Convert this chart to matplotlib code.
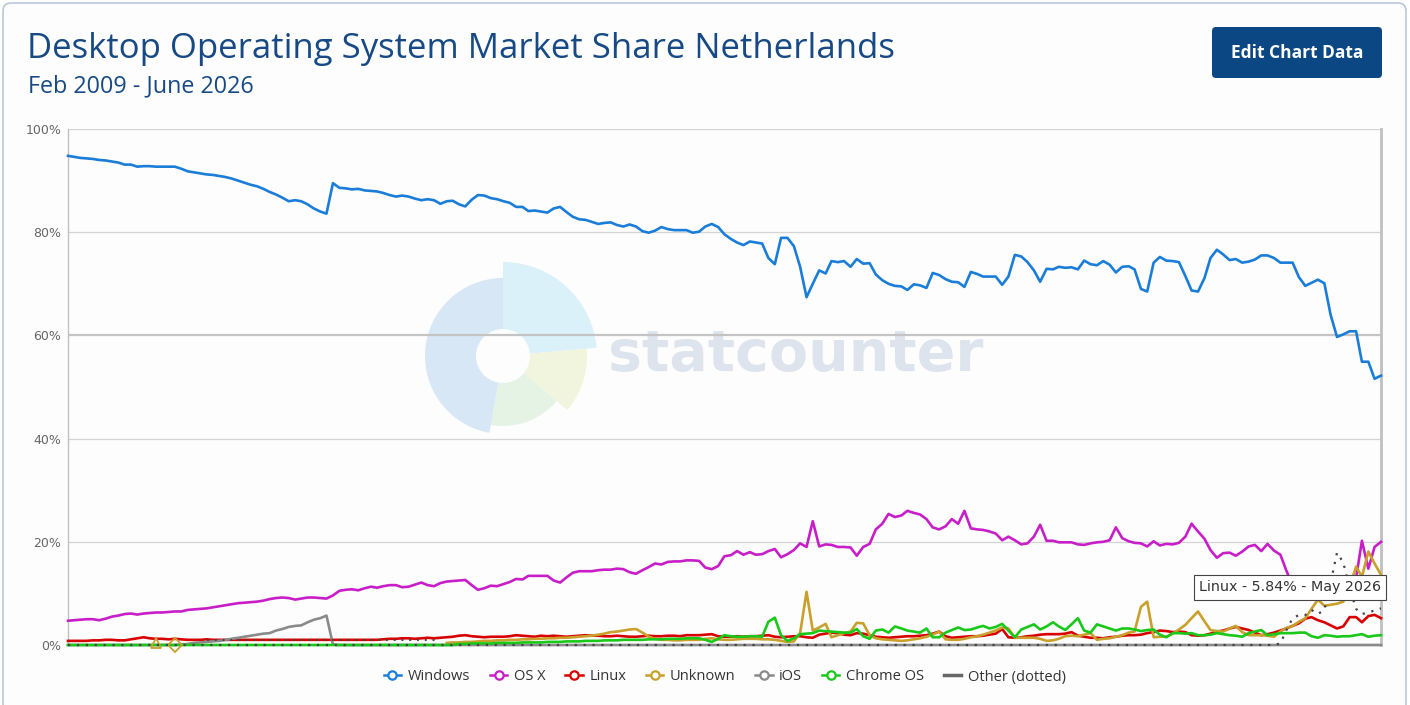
import numpy as np
import pandas as pd
import matplotlib
matplotlib.use('Agg')
import matplotlib.pyplot as plt
from matplotlib.patches import Wedge, Circle, FancyBboxPatch
from matplotlib.lines import Line2D

nan = np.nan

# monthly data, Feb 2009 - June 2026 (209 months)
months = pd.date_range('2009-02-01', periods=209, freq='MS')

windows = [
    94.8, 94.6, 94.4, 94.3, 94.2, 94.0, 93.9, 93.7, 93.5, 93.1,
    93.1, 92.7, 92.8, 92.8, 92.7, 92.7, 92.7, 92.7, 92.3, 91.8,
    91.6, 91.4, 91.2, 91.1, 90.9, 90.7, 90.4, 90.0, 89.6, 89.2,
    88.9, 88.4, 87.8, 87.3, 86.7, 86.0, 86.2, 86.0, 85.4, 84.6,
    84.0, 83.6, 89.5, 88.6, 88.5, 88.3, 88.4, 88.1, 88.0, 87.9,
    87.6, 87.2, 86.9, 87.1, 86.9, 86.5, 86.2, 86.4, 86.2, 85.5,
    86.0, 86.1, 85.4, 85.0, 86.3, 87.2, 87.1, 86.6, 86.4, 86.0,
    85.7, 84.9, 84.9, 84.1, 84.2, 84.0, 83.8, 84.6, 84.9, 83.9,
    83.0, 82.5, 82.4, 82.0, 81.6, 81.8, 81.9, 81.4, 81.1, 81.5,
    81.1, 80.2, 79.9, 80.3, 81.0, 80.6, 80.4, 80.4, 80.4, 79.9,
    80.1, 81.1, 81.6, 81.0, 79.6, 78.7, 78.0, 77.5, 78.2, 78.0,
    77.8, 75.0, 73.8, 78.9, 78.9, 77.3, 73.3, 67.4, 70.0, 72.6,
    72.0, 74.4, 74.2, 74.4, 73.3, 74.8, 73.9, 74.0, 71.8, 70.7,
    70.0, 69.6, 69.5, 68.8, 69.9, 69.7, 69.2, 72.1, 71.7, 70.9,
    70.4, 70.3, 69.4, 72.3, 71.9, 71.4, 71.4, 71.4, 69.8, 71.4,
    75.6, 75.3, 74.2, 72.6, 70.4, 72.9, 72.8, 73.3, 73.1, 73.2,
    72.8, 74.5, 73.8, 73.6, 74.4, 73.7, 72.2, 73.3, 73.4, 72.8,
    69.0, 68.5, 74.1, 75.2, 74.5, 74.4, 74.2, 71.5, 68.7, 68.5,
    71.1, 75.0, 76.6, 75.7, 74.6, 74.8, 74.1, 74.3, 74.7, 75.5,
    75.5, 75.0, 74.1, 74.1, 74.1, 71.3, 69.6, 70.2, 70.8, 70.1,
    64.0, 59.7, 60.2, 60.8, 60.8, 54.9, 54.9, 51.6, 52.2]

osx = [
    4.7, 4.8, 4.9, 5.0, 5.0, 4.8, 5.1, 5.5, 5.7, 6.0,
    6.1, 5.9, 6.1, 6.2, 6.3, 6.3, 6.4, 6.5, 6.5, 6.8,
    6.9, 7.0, 7.1, 7.3, 7.5, 7.7, 7.9, 8.1, 8.2, 8.3,
    8.4, 8.6, 8.9, 9.1, 9.2, 9.1, 8.8, 9.0, 9.2, 9.2,
    9.1, 9.0, 9.6, 10.5, 10.7, 10.8, 10.6, 11.0, 11.3, 11.1,
    11.4, 11.6, 11.6, 11.2, 11.3, 11.7, 12.1, 11.6, 11.4, 12.0,
    12.3, 12.4, 12.5, 12.6, 11.6, 10.7, 11.0, 11.5, 11.4, 11.8,
    12.2, 12.8, 12.7, 13.4, 13.4, 13.4, 13.4, 12.5, 12.1, 13.1,
    14.0, 14.3, 14.3, 14.3, 14.5, 14.6, 14.6, 14.8, 14.7, 14.1,
    13.8, 14.5, 15.1, 15.8, 15.6, 16.1, 16.2, 16.2, 16.4, 16.4,
    16.3, 15.0, 14.7, 15.3, 17.2, 17.4, 18.2, 17.5, 18.0, 17.5,
    17.6, 18.2, 18.6, 17.0, 17.6, 18.4, 19.7, 19.0, 24.0, 19.1,
    19.5, 19.4, 19.0, 19.0, 18.9, 17.3, 19.0, 19.6, 22.4, 23.5,
    25.4, 24.8, 25.1, 26.0, 25.6, 25.3, 24.4, 22.8, 22.4, 23.0,
    24.4, 23.5, 26.0, 22.6, 22.4, 22.3, 22.0, 21.6, 20.3, 21.0,
    20.3, 19.5, 19.7, 21.0, 23.3, 20.2, 20.2, 19.9, 19.9, 19.9,
    19.5, 19.4, 19.7, 19.9, 20.0, 20.3, 22.8, 20.7, 20.1, 19.8,
    19.7, 19.1, 20.1, 19.3, 19.6, 19.5, 19.8, 21.0, 23.5, 22.0,
    20.6, 18.4, 16.9, 17.8, 17.9, 17.3, 18.1, 19.1, 19.4, 18.2,
    19.6, 18.3, 17.5, 14.5, 11.5, 11.0, 10.8, 10.5, 10.6, 10.8,
    11.0, 11.2, 11.5, 11.8, 13.0, 20.2, 14.8, 19.0, 20.0]

linux = [
    0.8, 0.8, 0.8, 0.8, 0.9, 0.9, 1.0, 1.0, 0.9, 0.9,
    1.1, 1.3, 1.5, 1.3, 1.2, 1.2, 1.1, 1.2, 1.1, 1.0,
    1.0, 1.0, 1.1, 1.0, 1.0, 1.0, 1.0, 1.0, 1.0, 1.0,
    1.0, 1.0, 1.0, 1.0, 1.0, 1.0, 1.0, 1.0, 1.0, 1.0,
    1.0, 1.0, 1.0, 1.0, 1.0, 1.0, 1.0, 1.0, 1.0, 1.0,
    1.1, 1.2, 1.2, 1.3, 1.3, 1.2, 1.3, 1.4, 1.3, 1.4,
    1.5, 1.6, 1.8, 1.9, 1.7, 1.6, 1.5, 1.6, 1.6, 1.6,
    1.7, 1.9, 1.8, 1.7, 1.6, 1.8, 1.7, 1.8, 1.7, 1.6,
    1.7, 1.8, 1.9, 1.8, 1.8, 1.7, 1.7, 1.8, 1.7, 1.6,
    1.6, 1.7, 1.8, 1.7, 1.7, 1.8, 1.8, 1.7, 1.9, 1.9,
    1.9, 2.0, 2.1, 1.7, 1.6, 1.6, 1.7, 1.6, 1.7, 1.7,
    1.8, 1.9, 1.6, 1.5, 1.6, 1.7, 1.7, 1.5, 1.4, 2.0,
    2.2, 2.4, 2.3, 2.0, 1.9, 2.3, 2.2, 1.9, 1.6, 1.5,
    1.4, 1.5, 1.6, 1.7, 1.7, 1.8, 1.9, 2.2, 2.6, 1.7,
    1.4, 1.5, 1.6, 1.7, 1.7, 1.8, 2.0, 2.2, 3.1, 1.5,
    1.4, 1.5, 1.7, 1.8, 2.0, 2.1, 2.1, 2.1, 2.2, 2.5,
    1.8, 1.6, 1.4, 1.4, 1.3, 1.5, 1.6, 1.8, 1.9, 1.9,
    2.0, 2.3, 2.5, 2.8, 2.7, 2.5, 2.6, 2.5, 1.9, 1.8,
    1.9, 2.2, 2.6, 2.8, 3.2, 3.5, 3.2, 2.9, 2.4, 1.9,
    2.1, 2.4, 2.8, 3.2, 3.7, 4.2, 5.1, 5.4, 4.8, 4.4,
    3.8, 3.2, 3.6, 5.4, 5.4, 4.4, 5.6, 5.84, 5.2]

unknown = [
    nan, nan, nan, nan, nan, nan, nan, nan, nan, nan,
    nan, nan, nan, nan, 0.3, nan, nan, 0.0, nan, nan,
    nan, nan, nan, nan, nan, nan, nan, nan, nan, nan,
    nan, nan, nan, nan, nan, nan, nan, nan, nan, nan,
    nan, nan, nan, nan, nan, nan, nan, nan, nan, nan,
    nan, nan, nan, nan, nan, nan, nan, nan, nan, nan,
    0.4, 0.5, 0.5, 0.6, 0.6, 0.7, 0.8, 0.8, 0.9, 0.9,
    1.0, 1.0, 1.1, 1.1, 1.2, 1.2, 1.3, 1.3, 1.4, 1.4,
    1.5, 1.6, 1.7, 1.8, 2.0, 2.2, 2.5, 2.6, 2.8, 3.0,
    3.1, 2.4, 1.6, 1.2, 1.0, 1.0, 0.9, 0.9, 1.0, 1.0,
    1.0, 1.2, 1.3, 1.1, 1.0, 1.0, 1.1, 1.2, 1.2, 1.2,
    1.1, 1.1, 1.0, 0.8, 0.6, 0.7, 2.3, 10.3, 2.8, 3.4,
    4.1, 1.5, 1.9, 2.3, 2.6, 4.3, 4.2, 1.9, 1.3, 1.1,
    1.0, 0.9, 0.8, 0.9, 1.1, 1.3, 1.6, 2.0, 2.6, 1.1,
    1.0, 1.0, 1.2, 1.5, 1.7, 2.0, 2.4, 2.8, 3.4, 3.2,
    1.4, 1.4, 1.4, 1.4, 1.2, 0.8, 0.9, 1.2, 1.7, 1.8,
    1.7, 2.0, 2.3, 1.0, 1.2, 1.3, 1.6, 1.9, 2.4, 2.6,
    7.4, 8.4, 1.5, 1.6, 1.6, 2.2, 3.0, 3.9, 5.2, 6.5,
    4.6, 2.9, 2.7, 2.6, 3.2, 3.7, 2.5, 1.9, 1.9, 1.9,
    1.8, 1.6, 2.6, 3.3, 3.7, 4.5, 5.2, 7.0, 8.8, 7.6,
    7.8, 8.0, 8.4, 11.3, 15.2, 13.2, 18.1, 15.8, 13.6]
unknown_markers = ['^', 'D']   # shapes of the two isolated points

ios = [0.0] * 18 + [
    0.1, 0.2, 0.4, 0.5, 0.6, 0.7, 0.8, 1.0, 1.2, 1.4,
    1.6, 1.8, 2.0, 2.2, 2.3, 2.8, 3.1, 3.5, 3.7, 3.8,
    4.4, 4.9, 5.2, 5.7, 0.1] + [0.0] * 166

chromeos = [0.0] * 62 + [
    0.2, 0.2, 0.3, 0.3, 0.3, 0.3, 0.4, 0.4,
    0.4, 0.4, 0.5, 0.5, 0.5, 0.5, 0.6, 0.6, 0.6, 0.7,
    0.7, 0.7, 0.8, 0.8, 0.8, 0.9, 0.9, 0.9, 1.0, 1.0,
    1.0, 1.0, 1.1, 1.1, 1.1, 1.2, 1.2, 1.2, 1.3, 1.3,
    1.3, 1.0, 0.6, 1.2, 1.9, 1.7, 1.6, 1.6, 1.7, 1.7,
    1.6, 4.5, 5.3, 1.9, 0.8, 1.3, 2.1, 2.2, 2.3, 2.8,
    2.7, 2.6, 2.5, 2.4, 2.4, 3.1, 1.7, 1.2, 2.8, 3.0,
    2.4, 3.6, 3.2, 2.8, 2.6, 2.4, 3.2, 1.5, 1.5, 2.4,
    2.9, 3.4, 2.9, 3.0, 3.4, 3.7, 3.2, 3.5, 4.1, 2.8,
    1.5, 3.0, 3.5, 4.0, 3.0, 3.6, 4.4, 3.6, 2.9, 4.0,
    5.2, 2.8, 2.4, 4.0, 3.6, 3.2, 2.8, 3.2, 3.2, 3.0,
    2.7, 2.9, 3.0, 2.0, 1.5, 2.3, 2.3, 2.2, 2.3, 1.9,
    1.9, 2.0, 2.3, 2.1, 1.9, 1.8, 1.6, 2.3, 2.6, 2.9,
    1.9, 2.1, 2.3, 2.3, 2.3, 2.4, 2.4, 1.7, 1.4, 1.9,
    1.8, 1.6, 1.7, 1.7, 1.9, 2.1, 1.6, 1.8, 1.9]

# "Other" dotted series
other = [0.0] * 192 + [
    0.3, 2.8, 5.2, 5.8, 5.8, 6.8, 6.0, 6.8,
    12.0, 17.9, 16.0, 11.0, 7.0, 6.0, 6.3, 6.7, 7.1]
other_b = [nan] * 22 + [1.0] * 38 + [nan] * 149

names = ['Windows', 'OS X', 'Linux', 'Unknown', 'iOS', 'Chrome OS']
colors = ['#1a7dd7', '#c81ec8', '#d90000', '#c9a02b', '#8a8a8a', '#19c819']
series = [windows, osx, linux, unknown, ios, chromeos]

W, H = 1410, 705
fig = plt.figure(figsize=(W / 100, H / 100), dpi=100)
fig.patch.set_facecolor('white')

# background layer in pixel coords (y up)
bg = fig.add_axes([0, 0, 1, 1], zorder=0)
bg.set_xlim(0, W)
bg.set_ylim(0, H)
bg.axis('off')

def py(y):
    return H - y

bg.add_patch(FancyBboxPatch((3, py(712)), 1403, 709, boxstyle='round,pad=0,rounding_size=8',
                            fc='#fdfdfe', ec='#b9c9dc', lw=1.2))

# statcounter watermark
cx, cy = 503, py(356)
bg.add_patch(Wedge((cx, cy), 94, 5, 90, fc='#daf1fa', ec='none'))
bg.add_patch(Wedge((cx, cy), 84, -40, 5, fc='#f1f5de', ec='none'))
bg.add_patch(Wedge((cx, cy), 70, -100, -40, fc='#e4f3e4', ec='none'))
bg.add_patch(Wedge((cx, cy), 78, 90, 260, fc='#d7e7f6', ec='none'))
bg.add_patch(Circle((cx, cy), 27, fc='#fdfdfe', ec='none'))
bg.text(608, py(356), 'statcounter', fontsize=41, fontweight='bold', color='#dee4ed',
        ha='left', va='center', family='DejaVu Sans')

# title block
bg.text(27, py(49), 'Desktop Operating System Market Share Netherlands', fontsize=25,
        color='#174a84', family='Open Sans', ha='left', va='center')
bg.text(28, py(86), 'Feb 2009 - June 2026', fontsize=16.8, color='#174a84',
        family='Open Sans', ha='left', va='center')
bg.add_patch(FancyBboxPatch((1212, py(78)), 170, 51, boxstyle='round,pad=0,rounding_size=4',
                            fc='#0b4783', ec='none'))
bg.text(1297, py(53), 'Edit Chart Data', fontsize=12.5, fontweight='bold', color='white',
        family='Open Sans', ha='center', va='center')

# main chart
ax = fig.add_axes([68 / W, 1 - 645 / H, (1381 - 68) / W, (645 - 129) / H], zorder=1)
ax.set_facecolor('none')
ax.set_xlim(months[0], months[-1])
ax.set_ylim(0, 100)

for v in [20, 40, 80, 100]:
    ax.axhline(v, color='#d4d4d4', lw=0.9, zorder=1)
ax.axhline(60, color='#c4c4c4', lw=1.6, zorder=1)

for name, col, vals in zip(names, colors, series):
    ax.plot(months, vals, color=col, lw=1.9, zorder=3, clip_on=False, solid_joinstyle='round')

# isolated Unknown points drawn as markers
u = np.array(unknown, dtype=float)
k = 0
for i in range(len(u)):
    left = np.isnan(u[i - 1]) if i > 0 else True
    right = np.isnan(u[i + 1]) if i < len(u) - 1 else True
    if not np.isnan(u[i]) and left and right:
        ax.plot(months[i], u[i], marker=unknown_markers[k % 2], ms=7, mfc='none',
                mec=colors[3], mew=1.3, zorder=4, clip_on=False)
        k += 1

ax.plot(months, other, color='#444444', lw=1.6, ls=(0, (1, 3)), zorder=4, clip_on=False)
ax.plot(months, other_b, color='#444444', lw=1.4, ls=(0, (1, 3)), zorder=4, clip_on=False)

ax.set_yticks([0, 20, 40, 60, 80, 100])
ax.set_yticklabels(['0%', '20%', '40%', '60%', '80%', '100%'])
ax.tick_params(axis='y', length=0, pad=5, labelsize=9, labelcolor='#666666')
ax.set_xticks([])
for s in ['left', 'right', 'bottom']:
    ax.spines[s].set_color('#c0c0c0')
ax.spines['right'].set_linewidth(2)
ax.spines['left'].set_linewidth(1)
ax.spines['top'].set_visible(False)

# tooltip
fig.text(1199 / W, 1 - 587.5 / H, 'Linux - 5.84% - May 2026', fontsize=10.3, color='#333333',
         ha='left', va='center', zorder=10,
         bbox=dict(boxstyle='square,pad=0.35', fc='white', ec='#444444', lw=0.8))

# legend
handles = [Line2D([], [], color=c, lw=1.8, marker='o', ms=6, mfc='white', mec=c, mew=1.6)
           for c in colors]
handles.append(Line2D([], [], color='#666666', lw=2.5))
labels = names + ['Other (dotted)']
fig.legend(handles, labels, loc='center', bbox_to_anchor=(0.514, 1 - 677 / H), ncol=7,
           frameon=False, handlelength=1.2, handletextpad=0.45, columnspacing=1.35,
           prop={'family': 'Open Sans', 'size': 10.5}, labelcolor='#333333')

fig.savefig('out.png', dpi=100)
